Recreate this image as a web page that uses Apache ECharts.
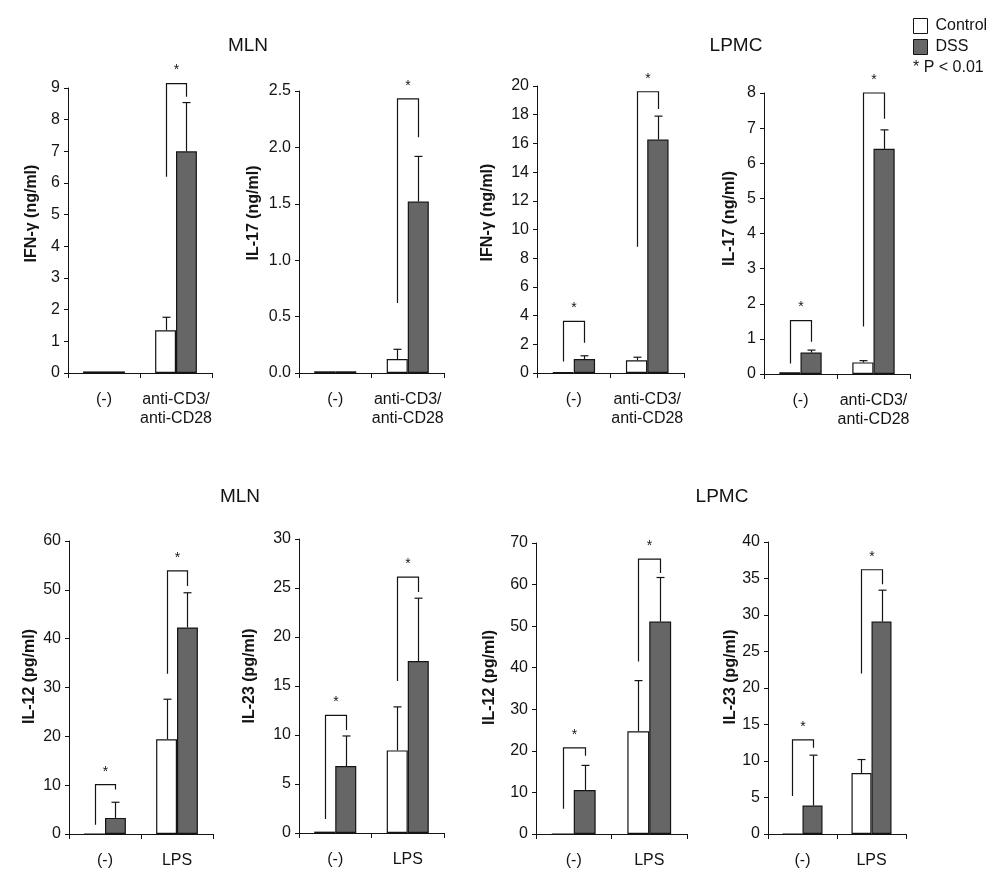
<!DOCTYPE html>
<html>
<head>
<meta charset="utf-8">
<script src="https://cdn.jsdelivr.net/npm/echarts@6/dist/echarts.min.js"></script>
<style>
html,body{margin:0;padding:0;background:#fff;}
#chart{width:1002px;height:882px;}
</style>
</head>
<body>
<div id="chart"></div>
<script>
// ---------- DATA ----------
var catsCD3 = ['(-)', 'anti-CD3/\nanti-CD28'];
var catsLPS = ['(-)', 'LPS'];
var seriesNames = ['Control', 'DSS'];
var regionTitles = ['MLN', 'LPMC', 'MLN', 'LPMC'];
var pLabel = '* P < 0.01';

// Panel 1: MLN IFN-γ
var p1Name = 'IFN-γ (ng/ml)';
var p1Ctrl = [0.05, 1.35];
var p1CtrlErr = [null, 1.76];
var p1Dss = [0.05, 7.0];
var p1DssErr = [null, 8.54];
var p1Brackets = [[1, 6.2, 9.14, 8.72]];
// Panel 2: MLN IL-17
var p2Name = 'IL-17 (ng/ml)';
var p2Ctrl = [0.015, 0.124];
var p2CtrlErr = [null, 0.21];
var p2Dss = [0.015, 1.52];
var p2DssErr = [null, 1.92];
var p2Brackets = [[1, 0.62, 2.43, 2.09]];
// Panel 3: LPMC IFN-γ
var p3Name = 'IFN-γ (ng/ml)';
var p3Ctrl = [0.05, 0.88];
var p3CtrlErr = [null, 1.1];
var p3Dss = [0.97, 16.27];
var p3DssErr = [1.2, 17.9];
var p3Brackets = [[0, 0.8, 3.6, 2.1], [1, 8.8, 19.6, 18.4]];
// Panel 4: LPMC IL-17
var p4Name = 'IL-17 (ng/ml)';
var p4Ctrl = [0.05, 0.33];
var p4CtrlErr = [null, 0.38];
var p4Dss = [0.61, 6.41];
var p4DssErr = [0.68, 6.95];
var p4Brackets = [[0, 0.3, 1.52, 0.92], [1, 1.35, 8.0, 7.27]];
// Panel 5: MLN IL-12
var p5Name = 'IL-12 (pg/ml)';
var p5Ctrl = [0, 19.4];
var p5CtrlErr = [null, 27.6];
var p5Dss = [3.3, 42.3];
var p5DssErr = [6.5, 49.4];
var p5Brackets = [[0, 1.9, 10.1, 9.1], [1, 32.8, 53.9, 50.8]];
// Panel 6: MLN IL-23
var p6Name = 'IL-23 (pg/ml)';
var p6Ctrl = [0.14, 8.43];
var p6CtrlErr = [null, 12.87];
var p6Dss = [6.83, 17.54];
var p6DssErr = [9.9, 23.96];
var p6Brackets = [[0, 1.43, 12.0, 10.5], [1, 15.5, 26.1, 24.6]];
// Panel 7: LPMC IL-12
var p7Name = 'IL-12 (pg/ml)';
var p7Ctrl = [0, 24.7];
var p7CtrlErr = [null, 36.9];
var p7Dss = [10.6, 51.1];
var p7DssErr = [16.5, 61.7];
var p7Brackets = [[0, 6.1, 20.7, 18.8], [1, 41.5, 66.1, 62.8]];
// Panel 8: LPMC IL-23
var p8Name = 'IL-23 (pg/ml)';
var p8Ctrl = [0, 8.36];
var p8CtrlErr = [null, 10.2];
var p8Dss = [3.9, 29.1];
var p8DssErr = [10.8, 33.4];
var p8Brackets = [[0, 5.2, 12.9, 11.8], [1, 22.0, 36.2, 34.2]];

// axis ranges
var yMax = [9, 2.5, 20, 8, 60, 30, 70, 40];
var yInterval = [1, 0.5, 2, 1, 10, 5, 10, 5];
var yDecimals = [0, 1, 0, 0, 0, 0, 0, 0];

// ---------- LAYOUT / STYLE ----------
var grids = [
  {left: 68, top: 88, width: 144, height: 285},
  {left: 299, top: 91, width: 145, height: 282},
  {left: 537, top: 86, width: 147, height: 287},
  {left: 764, top: 93, width: 146, height: 281},
  {left: 69, top: 541, width: 144, height: 293},
  {left: 299, top: 539, width: 145, height: 294},
  {left: 536, top: 543, width: 151, height: 291},
  {left: 768, top: 542, width: 138, height: 292}
];
var nameGaps = [28, 37, 41, 26, 31, 41, 38, 28];
var nameShift = [34, 38, 34, 30, 22, 20, 22, 22];
var ink = '#141414';
var dssColor = '#666666';
var font = 'Liberation Sans, Arial, sans-serif';
var barPairFrac = 0.58;

var panels = [
  {name: p1Name, cats: catsCD3, ctrl: p1Ctrl, ctrlErr: p1CtrlErr, dss: p1Dss, dssErr: p1DssErr, br: p1Brackets},
  {name: p2Name, cats: catsCD3, ctrl: p2Ctrl, ctrlErr: p2CtrlErr, dss: p2Dss, dssErr: p2DssErr, br: p2Brackets},
  {name: p3Name, cats: catsCD3, ctrl: p3Ctrl, ctrlErr: p3CtrlErr, dss: p3Dss, dssErr: p3DssErr, br: p3Brackets},
  {name: p4Name, cats: catsCD3, ctrl: p4Ctrl, ctrlErr: p4CtrlErr, dss: p4Dss, dssErr: p4DssErr, br: p4Brackets},
  {name: p5Name, cats: catsLPS, ctrl: p5Ctrl, ctrlErr: p5CtrlErr, dss: p5Dss, dssErr: p5DssErr, br: p5Brackets},
  {name: p6Name, cats: catsLPS, ctrl: p6Ctrl, ctrlErr: p6CtrlErr, dss: p6Dss, dssErr: p6DssErr, br: p6Brackets},
  {name: p7Name, cats: catsLPS, ctrl: p7Ctrl, ctrlErr: p7CtrlErr, dss: p7Dss, dssErr: p7DssErr, br: p7Brackets},
  {name: p8Name, cats: catsLPS, ctrl: p8Ctrl, ctrlErr: p8CtrlErr, dss: p8Dss, dssErr: p8DssErr, br: p8Brackets}
];

var option = {
  backgroundColor: '#ffffff',
  animation: false,
  textStyle: {fontFamily: font, color: ink},
  grid: [], xAxis: [], yAxis: [], series: [],
  legend: {
    orient: 'vertical', left: 913, top: 18, padding: 0,
    itemWidth: 14, itemHeight: 15, itemGap: 5,
    textStyle: {fontSize: 16, color: ink, fontFamily: font, padding: [0, 0, 0, 3]},
    data: [
      {name: seriesNames[0], icon: 'rect', itemStyle: {color: '#fff', borderColor: ink, borderWidth: 1}},
      {name: seriesNames[1], icon: 'rect', itemStyle: {color: dssColor, borderColor: ink, borderWidth: 1}}
    ],
    selectedMode: false
  },
  graphic: [
    {type: 'text', x: 913, y: 68, style: {text: pLabel, font: '16px ' + font, fill: ink, verticalAlign: 'middle'}},
    {type: 'text', x: 248, y: 46, style: {text: regionTitles[0], font: '19px ' + font, fill: ink, align: 'center', verticalAlign: 'middle'}},
    {type: 'text', x: 736, y: 46, style: {text: regionTitles[1], font: '19px ' + font, fill: ink, align: 'center', verticalAlign: 'middle'}},
    {type: 'text', x: 240, y: 497, style: {text: regionTitles[2], font: '19px ' + font, fill: ink, align: 'center', verticalAlign: 'middle'}},
    {type: 'text', x: 722, y: 497, style: {text: regionTitles[3], font: '19px ' + font, fill: ink, align: 'center', verticalAlign: 'middle'}}
  ]
};

panels.forEach(function (p, i) {
  option.grid.push(Object.assign({containLabel: false}, grids[i]));
  option.xAxis.push({
    type: 'category', gridIndex: i, data: p.cats,
    axisLine: {lineStyle: {color: ink, width: 1}},
    axisTick: {show: true, length: 5, lineStyle: {color: ink}},
    axisLabel: {interval: 0, hideOverlap: false, fontSize: 16, color: ink, margin: 17, lineHeight: 19, fontFamily: font}
  });
  option.yAxis.push({
    type: 'value', gridIndex: i, min: 0, max: yMax[i], interval: yInterval[i],
    name: p.name, nameLocation: 'middle', nameGap: nameGaps[i],
    nameTextStyle: {fontWeight: 'bold', fontSize: 16, color: ink, fontFamily: font,
      padding: [0, 0, 0, nameShift[i]]},
    axisLine: {show: true, lineStyle: {color: ink, width: 1}},
    axisTick: {show: true, length: 4, lineStyle: {color: ink}},
    splitLine: {show: false},
    axisLabel: {fontSize: 16, color: ink, margin: 8, fontFamily: font,
      formatter: (function (d) { return function (v) { return v.toFixed(d); }; })(yDecimals[i])}
  });
  option.series.push({
    name: seriesNames[0], type: 'bar', xAxisIndex: i, yAxisIndex: i, data: p.ctrl,
    barGap: '0%', barCategoryGap: '42%',
    itemStyle: {color: '#ffffff', borderColor: ink, borderWidth: 1.2}
  });
  option.series.push({
    name: seriesNames[1], type: 'bar', xAxisIndex: i, yAxisIndex: i, data: p.dss,
    barGap: '0%', barCategoryGap: '42%',
    itemStyle: {color: dssColor, borderColor: ink, borderWidth: 1.2}
  });
  // error bars
  var errData = [];
  for (var c = 0; c < p.cats.length; c++) {
    if (p.ctrlErr[c] != null) errData.push([c, 0, p.ctrl[c], p.ctrlErr[c]]);
    if (p.dssErr[c] != null) errData.push([c, 1, p.dss[c], p.dssErr[c]]);
  }
  option.series.push({
    type: 'custom', xAxisIndex: i, yAxisIndex: i, clip: false, silent: true,
    data: errData, encode: {x: 0, y: 3},
    renderItem: function (params, api) {
      var cat = api.value(0), side = api.value(1);
      var band = api.size([1, 0])[0];
      var off = (side === 0 ? -1 : 1) * band * barPairFrac / 4;
      var base = api.coord([cat, api.value(2)]);
      var top = api.coord([cat, api.value(3)]);
      var x = Math.round(base[0] + off) + 0.5;
      var st = {stroke: ink, lineWidth: 1.2};
      return {type: 'group', children: [
        {type: 'line', shape: {x1: x, y1: base[1], x2: x, y2: top[1]}, style: st},
        {type: 'line', shape: {x1: x - 4, y1: top[1], x2: x + 4, y2: top[1]}, style: st}
      ]};
    }
  });
  // significance brackets
  option.series.push({
    type: 'custom', xAxisIndex: i, yAxisIndex: i, clip: false, silent: true,
    data: p.br, encode: {x: 0, y: 2},
    renderItem: function (params, api) {
      var cat = api.value(0);
      var band = api.size([1, 0])[0];
      var off = band * barPairFrac / 4;
      var c0 = api.coord([cat, api.value(1)]);
      var cT = api.coord([cat, api.value(2)]);
      var c1 = api.coord([cat, api.value(3)]);
      var xl = Math.round(c0[0] - off) + 0.5, xr = Math.round(c0[0] + off) + 0.5;
      return {type: 'group', children: [
        {type: 'polyline', shape: {points: [[xl, c0[1]], [xl, cT[1]], [xr, cT[1]], [xr, c1[1]]]},
          style: {stroke: ink, lineWidth: 1.2, fill: null}},
        {type: 'text', x: (xl + xr) / 2, y: cT[1] - 6,
          style: {text: '*', font: '14px ' + font, fill: ink, align: 'center', verticalAlign: 'bottom'}}
      ]};
    }
  });
});

var chart = echarts.init(document.getElementById('chart'), null, {renderer: 'canvas'});
chart.setOption(option);
</script>
</body>
</html>
